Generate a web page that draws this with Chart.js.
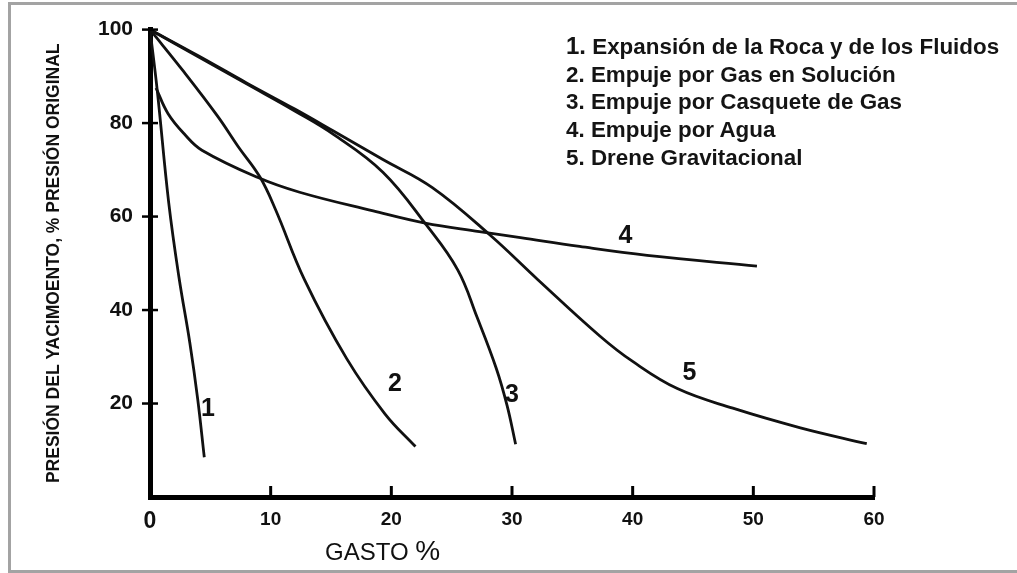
<!DOCTYPE html>
<html>
<head>
<meta charset="utf-8">
<script src="https://cdn.jsdelivr.net/npm/chart.js@4.4.1/dist/chart.umd.min.js"></script>
<style>
  body { margin: 0; background: #fff; }
  #wrap { position: relative; width: 1017px; height: 573px; overflow: hidden; }
  #frame { position: absolute; left: 8px; top: 2px; width: 1012px; height: 571px; box-sizing: border-box; border: 3px solid #a3a3a3; pointer-events: none; }
  #legend { position: absolute; left: 566px; top: 32px; font: bold 22.4px "Liberation Sans", Arial, sans-serif; line-height: 27.7px; color: #141414; white-space: nowrap; }
  #legend .n1 { font-size: 24px; }
  #xtitle { position: absolute; left: 325px; top: 537px; font: 24px "Liberation Sans", Arial, sans-serif; line-height: 1; color: #111; white-space: nowrap; }
  #xtitle span { font-size: 28px; }
</style>
</head>
<body>
<div id="wrap">
  <canvas id="myChart" width="1017" height="573"></canvas>
  <div id="legend">
    <div><span class="n1">1.</span> Expansión de la Roca y de los Fluidos</div>
    <div>2. Empuje por Gas en Solución</div>
    <div>3. Empuje por Casquete de Gas</div>
    <div>4. Empuje por Agua</div>
    <div>5. Drene Gravitacional</div>
  </div>
  <div id="xtitle">GASTO <span>%</span></div>
  <div id="frame"></div>
</div>
<script>
// curves: [gasto %, presión %]
const rockExpansion = [[0, 100], [0.6, 87], [1.55, 63], [2.4, 47], [3.3, 33], [3.95, 21], [4.5, 8.5]];
const solutionGas = [[0, 100], [2.8, 91], [5.6, 81.5], [7.3, 75], [9.1, 68.5], [10.4, 61.5], [12.8, 46.5], [16.3, 29.6], [19.5, 17.7], [22, 10.8]];
const gasCap = [[0, 100], [4, 94.2], [8, 88.4], [12, 82.6], [15.2, 77.6], [19.3, 69.5], [22.9, 58.2], [25.5, 48.6], [27.1, 38.5], [28.7, 27.5], [29.6, 19.5], [30.3, 11.3]];
const waterDrive = [[0.5, 87.5], [1.5, 82], [2.9, 77.5], [4.3, 74.2], [8.9, 68.4], [12.4, 65.2], [18.5, 61.2], [22.8, 58.6], [27.3, 56.8], [30.7, 55.5], [35.6, 53.6], [41.2, 51.7], [50.3, 49.4]];
const gravityDrain = [[0, 100], [4, 94.4], [8, 88.6], [12, 83], [15.2, 78.3], [19.3, 72.2], [23.4, 66.2], [28.2, 56], [32.1, 46.6], [37.3, 34.4], [40, 29], [43.7, 23.2], [48.3, 19], [53.9, 14.8], [59.4, 11.4]];

const curveTags = ["1", "2", "3", "4", "5"];
const tagX = [4.8, 20.3, 30.0, 39.4, 44.7];
const tagY = [18.8, 24.1, 21.9, 55.9, 26.4];

const xTicks = [0, 10, 20, 30, 40, 50, 60];
const yTicks = [20, 40, 60, 80, 100];

const curves = [rockExpansion, solutionGas, gasCap, waterDrive, gravityDrain];

const toPoints = (arr) => arr.map(([x, y]) => ({ x: x, y: y }));

// tick marks crossing the axes and the curve numbers
const marksPlugin = {
    id: "marks",
    afterDatasetsDraw(chart) {
        const { ctx, scales: { x, y } } = chart;
        const left = x.getPixelForValue(0);
        const bottom = y.getPixelForValue(0);
        ctx.save();
        ctx.strokeStyle = "#000";
        ctx.lineWidth = 2.5;
        yTicks.forEach((v) => {
            const py = y.getPixelForValue(v);
            ctx.beginPath();
            ctx.moveTo(left - 8, py);
            ctx.lineTo(left + 8, py);
            ctx.stroke();
        });
        ctx.lineWidth = 3;
        xTicks.slice(1).forEach((v) => {
            const px = x.getPixelForValue(v);
            ctx.beginPath();
            ctx.moveTo(px, bottom);
            ctx.lineTo(px, bottom - 11);
            ctx.stroke();
        });
        ctx.fillStyle = "#111";
        ctx.font = "bold 25px 'Liberation Sans', Arial, sans-serif";
        ctx.textAlign = "center";
        ctx.textBaseline = "middle";
        curveTags.forEach((t, i) => {
            ctx.fillText(t, x.getPixelForValue(tagX[i]), y.getPixelForValue(tagY[i]));
        });
        ctx.restore();
    }
};

const ctx = document.getElementById("myChart").getContext("2d");

new Chart(ctx, {
    type: "line",
    data: {
        datasets: curves.map((c) => ({
            data: toPoints(c),
            borderColor: "#111",
            borderWidth: 2.8,
            pointRadius: 0,
            fill: false,
            tension: 0.4,
        })),
    },
    options: {
        responsive: false,
        animation: false,
        devicePixelRatio: 1,
        layout: { padding: { top: 23, right: 143, left: 0, bottom: 0 } },
        plugins: {
            legend: { display: false },
            tooltip: { enabled: false },
        },
        scales: {
            x: {
                type: "linear",
                min: 0,
                max: 60,
                afterBuildTicks: (s) => { s.ticks = xTicks.map((v) => ({ value: v })); },
                afterFit: (s) => { s.height = 76; },
                grid: { display: false, drawTicks: false },
                border: { display: true, color: "#000", width: 5 },
                ticks: {
                    color: "#111",
                    padding: 11,
                    maxRotation: 0,
                    font: (c) => ({
                        family: "'Liberation Sans', Arial, sans-serif",
                        weight: "bold",
                        size: c.tick && c.tick.value === 0 ? 23 : 19,
                    }),
                },
            },
            y: {
                type: "linear",
                min: 0,
                max: 100,
                afterBuildTicks: (s) => { s.ticks = yTicks.map((v) => ({ value: v })); },
                afterFit: (s) => { s.width = 150; },
                grid: { display: false, drawTicks: false },
                border: { display: true, color: "#000", width: 5 },
                ticks: {
                    color: "#111",
                    padding: 17,
                    font: { family: "'Liberation Sans', Arial, sans-serif", weight: "bold", size: 21 },
                },
                title: {
                    display: true,
                    text: "PRESIÓN DEL YACIMOENTO, % PRESIÓN ORIGINAL",
                    color: "#111",
                    font: { family: "'Liberation Sans', Arial, sans-serif", weight: "bold", size: 17.5 },
                    padding: { top: 44, bottom: 0 },
                },
            },
        },
    },
    plugins: [marksPlugin],
});
</script>
</body>
</html>
